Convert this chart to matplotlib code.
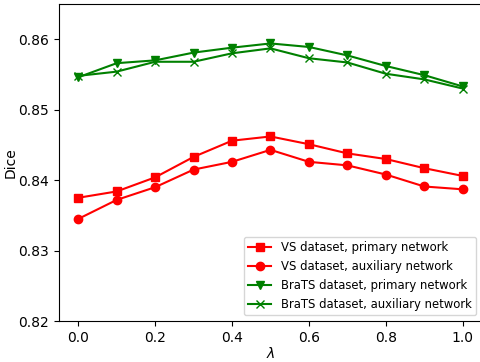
import matplotlib
matplotlib.use('Agg')
import matplotlib.pyplot as plt

lam = [0.0, 0.1, 0.2, 0.3, 0.4, 0.5, 0.6, 0.7, 0.8, 0.9, 1.0]
vs_primary = [0.8375, 0.8384, 0.8404, 0.8433, 0.8456, 0.8462, 0.8451, 0.8438, 0.8430, 0.8417, 0.8406]
vs_aux = [0.8345, 0.8372, 0.8390, 0.8415, 0.8426, 0.8443, 0.8426, 0.8421, 0.8408, 0.8391, 0.8387]
brats_primary = [0.8546, 0.8566, 0.8570, 0.8581, 0.8588, 0.8594, 0.8589, 0.8577, 0.8562, 0.8549, 0.8533]
brats_aux = [0.8548, 0.8554, 0.8568, 0.8568, 0.8580, 0.8587, 0.8573, 0.8567, 0.8551, 0.8543, 0.8530]

fig = plt.figure(figsize=(4.8, 3.62), dpi=100)
ax = fig.add_axes([0.123, 0.113, 0.881, 0.876])

ax.plot(lam, vs_primary, color='red', marker='s', label='VS dataset, primary network')
ax.plot(lam, vs_aux, color='red', marker='o', label='VS dataset, auxiliary network')
ax.plot(lam, brats_primary, color='green', marker='v', label='BraTS dataset, primary network')
ax.plot(lam, brats_aux, color='green', marker='x', label='BraTS dataset, auxiliary network')

ax.set_xlim(-0.05, 1.05)
ax.set_ylim(0.82, 0.865)
ax.set_yticks([0.82, 0.83, 0.84, 0.85, 0.86])
ax.set_xlabel(r'$\lambda$', labelpad=0.5)
ax.set_ylabel('Dice', labelpad=0.5)
ax.legend(loc='lower right', fontsize='small')

plt.savefig('out.png', dpi=100)
